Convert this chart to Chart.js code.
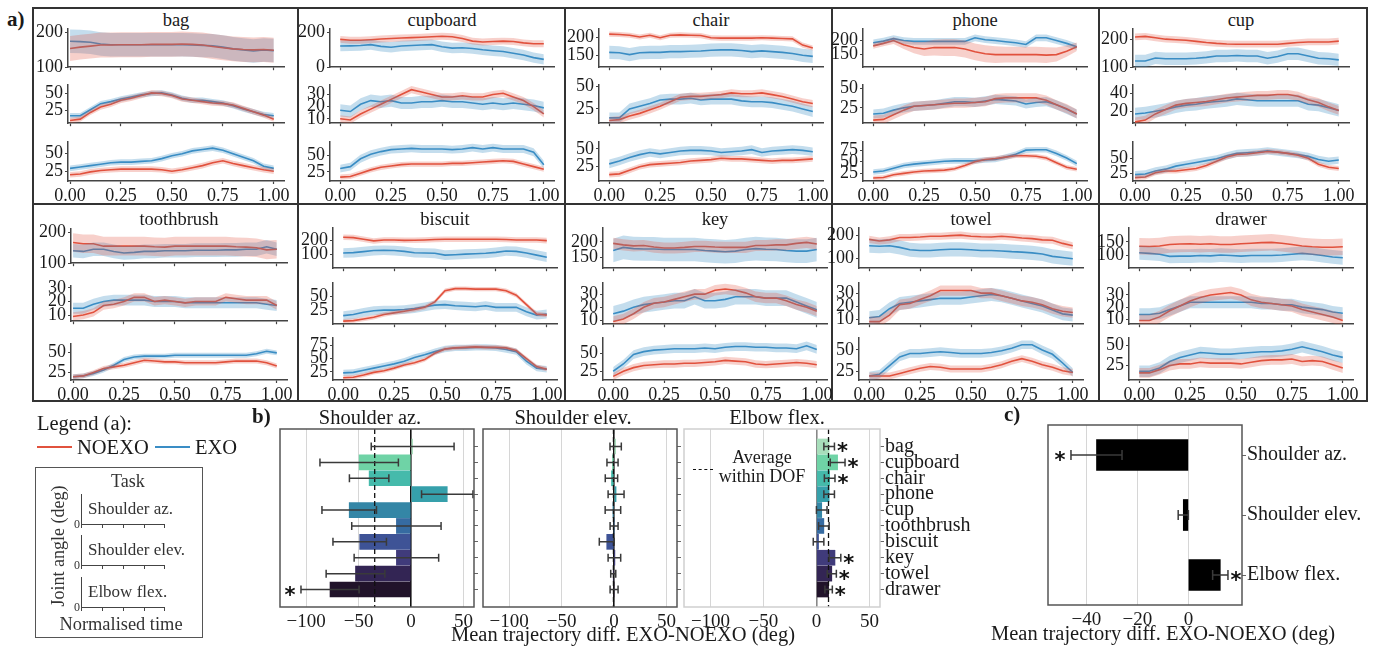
<!DOCTYPE html>
<html>
<head>
<meta charset="utf-8">
<title>Joint angle trajectories EXO vs NOEXO</title>
<script src="https://cdn.jsdelivr.net/npm/chart.js@4.4.1/dist/chart.umd.min.js"></script>
<style>
  html, body { margin: 0; padding: 0; background: #fff; }
  body { position: relative; width: 1378px; height: 647px; overflow: hidden;
         font-family: 'Liberation Serif', 'Times New Roman', serif; color: #1a1a1a; }
  canvas { position: absolute; }
  .txt { position: absolute; white-space: nowrap; line-height: 1; }
  .ln { position: absolute; box-sizing: border-box; }
</style>
</head>
<body>
<script>
// ---- a) mean joint angle (deg) over normalised time, rows = az., elev., flex. ----
const time = [0, 0.05, 0.1, 0.15, 0.2, 0.25, 0.3, 0.35, 0.4, 0.45, 0.5, 0.55, 0.6, 0.65, 0.7, 0.75, 0.8, 0.85, 0.9, 0.95, 1];
const timeTicks = [0, 0.25, 0.5, 0.75, 1];
const tasks = ['bag', 'cupboard', 'chair', 'phone', 'cup', 'toothbrush', 'biscuit', 'key', 'towel', 'drawer'];
const dofs = ['Shoulder az.', 'Shoulder elev.', 'Elbow flex.'];

const bagNoexo = [
  [154, 158, 161, 164, 164, 165, 165, 165, 166, 166, 166, 167, 166, 164, 160, 156, 153, 151, 150, 151, 149],
  [10, 12, 22, 30, 34, 40, 43, 47, 51, 50, 47, 42, 40, 38, 36, 35, 33, 28, 23, 18, 12],
  [20, 21, 24, 26, 27, 28, 28, 28, 28, 27, 25, 27, 30, 33, 37, 40, 36, 33, 30, 27, 25]
];
const bagExo = [
  [175, 174, 172, 167, 165, 165, 165, 165, 165, 165, 165, 165, 164, 163, 162, 158, 153, 150, 147, 150, 148],
  [17, 17, 26, 35, 38, 42, 45, 48, 50, 51, 48, 43, 40, 40, 38, 36, 32, 27, 23, 19, 17],
  [29, 31, 33, 35, 37, 38, 38, 39, 40, 43, 47, 50, 54, 56, 58, 55, 50, 45, 40, 32, 29]
];
const cupboardNoexo = [
  [160, 155, 155, 158, 162, 165, 168, 170, 172, 175, 178, 175, 165, 150, 145, 148, 150, 148, 140, 135, 135],
  [10, 9, 14, 18, 22, 26, 30, 34, 32, 30, 28, 28, 29, 28, 28, 30, 31, 28, 25, 20, 14],
  [17, 18, 23, 28, 32, 34, 36, 37, 37, 37, 37, 38, 38, 39, 40, 41, 42, 41, 37, 33, 29]
];
const cupboardExo = [
  [122, 123, 125, 130, 120, 115, 122, 125, 128, 130, 118, 110, 112, 108, 100, 95, 90, 80, 70, 55, 45],
  [17, 16, 22, 25, 24, 25, 23, 23, 24, 24, 25, 24, 24, 23, 22, 23, 22, 23, 22, 21, 19],
  [30, 33, 45, 52, 56, 59, 60, 61, 60, 60, 60, 59, 60, 62, 60, 62, 60, 60, 60, 55, 36]
];
const chairNoexo = [
  [208, 207, 205, 200, 205, 198, 205, 206, 205, 204, 198, 197, 197, 197, 197, 198, 197, 196, 195, 178, 170],
  [12, 13, 17, 20, 24, 28, 33, 38, 39, 39, 40, 41, 43, 42, 42, 43, 41, 39, 36, 33, 31],
  [14, 15, 20, 25, 28, 29, 30, 31, 33, 34, 35, 37, 36, 36, 35, 34, 33, 34, 34, 35, 36]
];
const chairExo = [
  [158, 157, 152, 157, 158, 158, 160, 160, 161, 162, 164, 165, 165, 163, 160, 162, 160, 158, 155, 150, 147],
  [15, 15, 25, 28, 31, 35, 36, 36, 37, 35, 36, 36, 36, 34, 33, 33, 32, 30, 28, 25, 22],
  [29, 33, 38, 42, 45, 43, 45, 47, 48, 48, 47, 45, 46, 47, 49, 45, 47, 48, 49, 48, 46]
];
const phoneNoexo = [
  [181, 190, 200, 185, 175, 170, 175, 175, 175, 170, 160, 153, 150, 150, 150, 150, 150, 148, 150, 162, 178],
  [9, 10, 16, 22, 27, 28, 29, 30, 31, 31, 32, 33, 37, 38, 38, 38, 38, 35, 29, 24, 17],
  [15, 16, 22, 25, 28, 30, 31, 32, 35, 42, 50, 55, 57, 60, 63, 63, 62, 58, 48, 38, 34]
];
const phoneExo = [
  [192, 198, 207, 200, 197, 197, 197, 197, 197, 197, 210, 203, 200, 196, 192, 186, 210, 210, 200, 190, 178],
  [17, 18, 22, 25, 27, 28, 29, 31, 33, 33, 32, 34, 36, 35, 34, 30, 32, 33, 29, 23, 17],
  [28, 30, 36, 42, 45, 47, 49, 51, 52, 52, 52, 54, 55, 60, 66, 75, 76, 76, 68, 58, 46]
];
const cupNoexo = [
  [208, 210, 205, 200, 198, 196, 192, 188, 185, 183, 182, 182, 182, 182, 182, 185, 188, 190, 190, 190, 193],
  [8, 10, 17, 22, 27, 29, 30, 31, 33, 35, 36, 37, 38, 38, 39, 39, 37, 33, 30, 25, 21],
  [18, 19, 26, 29, 29, 31, 33, 38, 45, 52, 56, 57, 59, 61, 60, 58, 55, 50, 40, 35, 33]
];
const cupExo = [
  [122, 122, 133, 130, 130, 130, 132, 135, 140, 140, 142, 140, 140, 132, 138, 148, 148, 140, 132, 130, 126],
  [17, 18, 20, 22, 25, 27, 28, 30, 31, 32, 34, 33, 32, 32, 32, 32, 32, 28, 27, 24, 21],
  [23, 24, 29, 32, 37, 40, 43, 46, 49, 54, 58, 59, 60, 62, 60, 58, 56, 53, 48, 45, 47]
];
const toothbrushNoexo = [
  [167, 163, 163, 155, 155, 155, 155, 155, 153, 152, 155, 155, 155, 155, 155, 155, 153, 152, 150, 143, 145],
  [9, 10, 12, 17, 18, 20, 23, 23, 20, 21, 20, 19, 20, 20, 20, 23, 22, 21, 21, 21, 17],
  [20, 21, 25, 30, 32, 34, 37, 40, 39, 38, 38, 37, 37, 37, 37, 38, 39, 39, 39, 37, 33]
];
const toothbrushExo = [
  [140, 138, 145, 145, 138, 133, 135, 138, 138, 140, 140, 140, 142, 142, 142, 143, 143, 145, 145, 153, 145],
  [15, 15, 18, 20, 21, 21, 21, 21, 20, 20, 20, 19, 19, 19, 19, 19, 19, 19, 19, 18, 17],
  [20, 21, 24, 28, 34, 41, 44, 45, 45, 45, 46, 46, 46, 46, 46, 46, 46, 46, 48, 51, 49]
];
const biscuitNoexo = [
  [224, 222, 210, 198, 205, 205, 202, 203, 205, 208, 210, 210, 210, 210, 210, 210, 208, 205, 205, 205, 200],
  [5, 6, 9, 12, 17, 20, 23, 26, 30, 40, 60, 64, 64, 63, 63, 63, 60, 52, 35, 18, 16],
  [14, 15, 19, 24, 27, 32, 38, 42, 48, 60, 68, 70, 71, 72, 71, 71, 70, 65, 50, 35, 30]
];
const biscuitExo = [
  [110, 113, 120, 128, 130, 128, 122, 112, 110, 108, 95, 98, 102, 105, 108, 115, 125, 122, 110, 95, 80],
  [15, 17, 21, 24, 25, 25, 26, 28, 31, 34, 35, 33, 32, 31, 33, 30, 30, 30, 22, 16, 18],
  [23, 24, 28, 32, 36, 40, 45, 52, 57, 63, 68, 70, 70, 71, 71, 70, 67, 63, 45, 32, 30]
];
const keyNoexo = [
  [195, 190, 187, 188, 183, 180, 180, 182, 185, 185, 183, 182, 182, 182, 188, 188, 190, 190, 195, 198, 193],
  [9, 11, 15, 20, 23, 24, 26, 28, 30, 30, 33, 34, 33, 31, 28, 27, 27, 25, 22, 20, 17],
  [18, 25, 30, 33, 34, 35, 35, 36, 36, 37, 38, 40, 39, 38, 35, 34, 35, 36, 37, 36, 34]
];
const keyExo = [
  [172, 182, 178, 177, 177, 175, 175, 175, 175, 172, 170, 168, 170, 175, 178, 176, 175, 172, 170, 170, 175],
  [15, 17, 20, 22, 23, 24, 25, 25, 28, 25, 25, 26, 28, 28, 28, 27, 27, 27, 24, 21, 18],
  [25, 35, 48, 52, 54, 55, 56, 56, 56, 57, 56, 58, 59, 59, 58, 58, 57, 57, 56, 60, 55]
];
const towelNoexo = [
  [182, 175, 180, 190, 190, 192, 195, 195, 198, 200, 195, 193, 192, 195, 192, 188, 185, 180, 178, 165, 155],
  [8, 8, 13, 21, 22, 25, 28, 32, 32, 32, 32, 30, 30, 28, 26, 24, 23, 21, 18, 16, 15],
  [20, 20, 20, 23, 26, 29, 31, 30, 28, 28, 28, 28, 30, 33, 37, 40, 37, 33, 30, 26, 24]
];
const towelExo = [
  [155, 153, 155, 148, 138, 135, 135, 138, 140, 140, 138, 135, 135, 133, 130, 128, 125, 120, 110, 105, 100],
  [11, 12, 18, 22, 23, 24, 25, 26, 26, 26, 27, 28, 29, 28, 26, 24, 22, 20, 17, 14, 13],
  [20, 22, 32, 42, 46, 46, 47, 48, 47, 46, 46, 46, 47, 49, 52, 56, 56, 50, 45, 35, 24]
];
const drawerNoexo = [
  [134, 133, 135, 140, 142, 143, 141, 143, 140, 140, 143, 145, 147, 148, 145, 140, 135, 132, 130, 130, 132],
  [9, 9, 12, 17, 21, 25, 28, 30, 31, 32, 30, 26, 24, 23, 22, 21, 18, 16, 14, 12, 9],
  [16, 16, 20, 25, 27, 27, 29, 28, 28, 28, 27, 29, 31, 32, 32, 33, 30, 31, 30, 26, 22]
];
const drawerExo = [
  [110, 108, 105, 97, 98, 98, 100, 99, 102, 100, 98, 100, 100, 100, 102, 105, 108, 105, 100, 95, 92],
  [14, 14, 15, 18, 21, 24, 24, 24, 24, 24, 24, 24, 23, 23, 22, 22, 20, 19, 18, 16, 15],
  [18, 18, 22, 30, 35, 38, 41, 40, 39, 39, 40, 41, 42, 42, 43, 45, 48, 45, 42, 38, 35]
];

// spread (deg) of the shaded bands, [NOEXO, EXO] per DOF
const phoneAzNoexoSpread = [10, 10, 12, 15, 20, 25, 28, 30, 30, 30, 30, 30, 30, 28, 28, 28, 28, 28, 25, 20, 15];
const bagSd = [[36, 34], [4, 4], [4, 4]];
const cupboardSd = [[20, 30], [3, 5], [4, 6]];
const chairSd = [[7, 18], [4, 6], [4, 6]];
const phoneSd = [[phoneAzNoexoSpread, 12], [6, 6], [5, 6]];
const cupSd = [[12, 22], [5, 7], [4, 6]];
const toothbrushSd = [[30, 22], [3, 4], [3, 3]];
const biscuitSd = [[20, 35], [4, 8], [4, 6]];
const keySd = [[18, 38], [4, 6], [5, 6]];
const towelSd = [[15, 30], [4, 5], [4, 5]];
const drawerSd = [[30, 25], [5, 5], [6, 7]];

// y limits and ticks for each task, per DOF
const bagY = [[100, 211], [6, 63], [11, 67]];
const cupboardY = [[0, 221], [6.4, 38], [11, 71]];
const chairY = [[117.5, 222.5], [9, 52], [5, 60]];
const phoneY = [[105, 242], [5, 55], [8.6, 93]];
const cupY = [[100, 237], [6.5, 50], [12.5, 77]];
const toothbrushY = [[100, 211], [5.5, 31.5], [16, 60]];
const biscuitY = [[0, 293], [-0.5, 74.5], [9.7, 89]];
const keyY = [[115, 245], [7, 38.7], [13, 71]];
const towelY = [[60, 231], [6, 38], [15.4, 64]];
const drawerY = [[54, 201], [6, 40], [7.3, 59]];

const bagTicks = [[100, 200], [25, 50], [25, 50]];
const cupboardTicks = [[0, 200], [10, 20, 30], [25, 50]];
const chairTicks = [[150, 200], [25, 50], [25, 50]];
const phoneTicks = [[150, 200], [25, 50], [25, 50, 75]];
const cupTicks = [[100, 200], [20, 40], [25, 50]];
const toothbrushTicks = [[100, 200], [10, 20, 30], [25, 50]];
const biscuitTicks = [[100, 200], [25, 50], [25, 50, 75]];
const keyTicks = [[150, 200], [10, 20, 30], [25, 50]];
const towelTicks = [[100, 200], [10, 20, 30], [25, 50]];
const drawerTicks = [[100, 150], [10, 20, 30], [25, 50]];

// ---- b) mean trajectory difference EXO-NOEXO per task (deg) ----
const azMean = [1.5, -49.5, -40, 34.5, -59, -14, -49, -14, -53, -77.3];
const azErr = [39.5, 37.4, 18.8, 24.5, 26, 42.6, 25.5, 40.3, 28, 27.7];
const azSig = [0, 0, 0, 0, 0, 0, 0, 0, 0, 1];
const elevMean = [1.5, -1.5, -2.5, 1.9, -1.1, 0, -7, 0.3, -0.8, 0];
const elevErr = [5.4, 5.3, 5.9, 7.6, 7.4, 3.8, 7.1, 6, 2.4, 3.8];
const elevSig = [0, 0, 0, 0, 0, 0, 0, 0, 0, 0];
const flexMean = [12, 20, 12.5, 12, 5, 7, 2, 17.5, 14.5, 11.5];
const flexErr = [5, 7, 5, 5, 5, 5, 5, 5.5, 4.3, 3.5];
const flexSig = [1, 1, 1, 0, 0, 0, 0, 1, 1, 1];
const dofAverage = [-34.7, -0.6, 11.4];
const diffTicks = [-100, -50, 0, 50];

// ---- c) mean difference per DOF (deg) ----
const dofMean = [-36, -2, 12.5];
const dofErr = [10, 2, 3];
const dofSig = [1, 0, 1];
const dofTicks = [-40, -20, 0];

// ---- styling ----
const RED = '#E1523D', BLUE = '#3A8DC5';
const RED_BAND = 'rgba(225,82,61,0.27)', BLUE_BAND = 'rgba(58,141,197,0.3)';
const taskColors = ['#A8DEBB', '#6FD3A6', '#45BAAB', '#36A0AB', '#3486A6', '#366BA1', '#3E5396', '#403B7B', '#332554', '#21132A'];
Chart.defaults.font.family = "'Liberation Serif', 'Times New Roman', serif";
Chart.defaults.color = '#1a1a1a';

const noexoData = [bagNoexo, cupboardNoexo, chairNoexo, phoneNoexo, cupNoexo, toothbrushNoexo, biscuitNoexo, keyNoexo, towelNoexo, drawerNoexo];
const exoData = [bagExo, cupboardExo, chairExo, phoneExo, cupExo, toothbrushExo, biscuitExo, keyExo, towelExo, drawerExo];
const sdData = [bagSd, cupboardSd, chairSd, phoneSd, cupSd, toothbrushSd, biscuitSd, keySd, towelSd, drawerSd];
const yData = [bagY, cupboardY, chairY, phoneY, cupY, toothbrushY, biscuitY, keyY, towelY, drawerY];
const tickData = [bagTicks, cupboardTicks, chairTicks, phoneTicks, cupTicks, toothbrushTicks, biscuitTicks, keyTicks, towelTicks, drawerTicks];

// page layout of the a) grid
const PX = 204;
const cellX0 = [70, 340, 609, 873, 1135, 73, 343, 613, 869, 1139];
const cellXMin = [-0.01, -0.05, -0.05, -0.05, -0.01, -0.01, -0.05, -0.05, -0.05, -0.05];
const rowAreas = [
  [[26, 42], [82, 42], [139, 42]],
  [[225, 44], [280, 45], [335, 45]]
];
const toothbrushAreas = [[226, 38], [283, 39], [341, 39]];

function addCanvas(x, y, w, h) {
  const c = document.createElement('canvas');
  c.width = w; c.height = h;
  c.style.left = x + 'px'; c.style.top = y + 'px';
  c.style.width = w + 'px'; c.style.height = h + 'px';
  document.body.appendChild(c);
  return c;
}

function text(str, x, y, o = {}) {
  const d = document.createElement('div');
  d.className = 'txt';
  d.textContent = str;
  d.style.left = x + 'px';
  d.style.top = y + 'px';
  d.style.fontSize = (o.size || 20) + 'px';
  if (o.bold) d.style.fontWeight = 'bold';
  if (o.color) d.style.color = o.color;
  const ax = o.align === 'center' ? '-50%' : o.align === 'right' ? '-100%' : '0';
  d.style.transform = 'translate(' + (o.rot ? '-50%' : ax) + ', -50%)' + (o.rot ? ' rotate(' + o.rot + 'deg)' : '');
  document.body.appendChild(d);
}

function line(x, y, w, h, style) {
  const d = document.createElement('div');
  d.className = 'ln';
  d.style.left = x + 'px'; d.style.top = y + 'px';
  d.style.width = w + 'px'; d.style.height = h + 'px';
  Object.assign(d.style, style || { background: '#333' });
  document.body.appendChild(d);
}

const minusFmt = v => (v < 0 ? '\u2212' + (-v) : String(v));

function trajectoryPlot(area, noexo, exo, sd, yRange, yTicks, showTime) {
  const L = 46, T = 10, R = 22, B = showTime ? 27 : 12;
  const cv = addCanvas(area.x - L, area.y - T, area.w + L + R, area.h + T + B);
  const pts = (m, s, sign) => time.map((t, i) => ({ x: t, y: m[i] + sign * (Array.isArray(s) ? s[i] : s) }));
  const band = (m, s, col) => [
    { data: pts(m, s, 1), borderWidth: 0, backgroundColor: col, fill: '+1', pointRadius: 0 },
    { data: pts(m, s, -1), borderWidth: 0, fill: false, pointRadius: 0 }
  ];
  const mean = (m, col) => ({ data: pts(m, 0, 0), borderColor: col, borderWidth: 1.6, fill: false, pointRadius: 0 });
  const grid = { drawOnChartArea: false, tickLength: 3, tickColor: '#444', tickWidth: 1.2 };
  const border = { color: '#444', width: 1.5 };
  new Chart(cv, {
    type: 'line',
    data: { datasets: [...band(noexo, sd[0], RED_BAND), ...band(exo, sd[1], BLUE_BAND), mean(noexo, RED), mean(exo, BLUE)] },
    options: {
      responsive: false, animation: false, devicePixelRatio: 1,
      layout: { padding: { top: T, right: R, left: 0, bottom: 0 } },
      plugins: { legend: { display: false }, tooltip: { enabled: false } },
      scales: {
        x: {
          type: 'linear', min: area.xmin, max: 1.05, grid, border,
          afterBuildTicks: s => { s.ticks = timeTicks.map(v => ({ value: v })); },
          afterFit: s => { s.height = B; },
          ticks: { display: showTime, autoSkip: false, maxRotation: 0, padding: 1, font: { size: 18 }, callback: v => v.toFixed(2) }
        },
        y: {
          type: 'linear', min: yRange[0], max: yRange[1], grid, border,
          afterBuildTicks: s => { s.ticks = yTicks.map(v => ({ value: v })); },
          afterFit: s => { s.width = L; },
          ticks: { autoSkip: false, padding: 2, font: { size: 18 } }
        }
      }
    }
  });
}

// error bars, average line, asterisks and frame for the difference panels
function decor(mean, err, sig, avg, frame, cap) {
  return {
    id: 'decor',
    afterDatasetsDraw(chart) {
      const { ctx, chartArea: a } = chart;
      const xs = chart.scales.x, ys = chart.scales.y;
      ctx.save();
      ctx.beginPath(); ctx.rect(a.left, a.top, a.width, a.height); ctx.clip();
      if (avg !== null) {
        const px = xs.getPixelForValue(avg);
        ctx.setLineDash([5, 3]); ctx.strokeStyle = '#111'; ctx.lineWidth = 1.3;
        ctx.beginPath(); ctx.moveTo(px, a.top); ctx.lineTo(px, a.bottom); ctx.stroke();
        ctx.setLineDash([]);
      }
      ctx.strokeStyle = '#3a3a3a'; ctx.lineWidth = 1.5;
      mean.forEach((m, i) => {
        const py = ys.getPixelForValue(i);
        const x1 = xs.getPixelForValue(m - err[i]), x2 = xs.getPixelForValue(m + err[i]);
        ctx.beginPath();
        ctx.moveTo(x1, py); ctx.lineTo(x2, py);
        ctx.moveTo(x1, py - cap); ctx.lineTo(x1, py + cap);
        ctx.moveTo(x2, py - cap); ctx.lineTo(x2, py + cap);
        ctx.stroke();
      });
      ctx.restore();
      ctx.save();
      ctx.fillStyle = '#111';
      ctx.font = 'bold 21px "DejaVu Sans"';
      ctx.textAlign = 'center';
      mean.forEach((m, i) => {
        if (!sig[i]) return;
        const neg = m < 0;
        const px = xs.getPixelForValue(neg ? m - err[i] : m + err[i]) + (neg ? -11 : 8);
        ctx.fillText('*', px, ys.getPixelForValue(i) + 12);
      });
      ctx.strokeStyle = frame; ctx.lineWidth = 1.5;
      ctx.strokeRect(a.left, a.top, a.width, a.height);
      ctx.restore();
    }
  };
}

function diffPanel(area, mean, err, sig, avg, style) {
  const L = 2, T = 16, R = style.labels ? 110 : 8, B = 28;
  const cv = addCanvas(area.x - L, area.y - T, area.w + L + R, area.h + T + B);
  new Chart(cv, {
    type: 'bar',
    data: { datasets: [{ data: mean.map((v, i) => ({ x: v, y: i })), backgroundColor: taskColors, borderWidth: 0, barThickness: 15 }] },
    options: {
      indexAxis: 'y', responsive: false, animation: false, devicePixelRatio: 1,
      layout: { padding: { left: L, top: T, right: 0, bottom: 0 } },
      plugins: { legend: { display: false }, tooltip: { enabled: false } },
      scales: {
        x: {
          type: 'linear', min: -125, max: 60,
          afterBuildTicks: s => { s.ticks = diffTicks.map(v => ({ value: v })); },
          afterFit: s => { s.height = B; },
          grid: { drawTicks: false, color: c => (c.tick.value === 0 ? style.zero : '#d6d6d6'), lineWidth: c => (c.tick.value === 0 ? 1.6 : 1) },
          border: { display: false },
          ticks: { padding: 4, font: { size: 19 }, callback: minusFmt }
        },
        y: {
          type: 'linear', position: 'right', reverse: true, offset: false, min: -1.1, max: 10.1,
          afterBuildTicks: s => { s.ticks = tasks.map((t, i) => ({ value: i })); },
          afterFit: s => { s.width = R; },
          grid: { offset: false, drawOnChartArea: false, tickLength: 4, tickColor: '#666' },
          border: { display: false },
          ticks: { display: !!style.labels, autoSkip: false, padding: 1, font: { size: 20 }, callback: v => tasks[v] }
        }
      }
    },
    plugins: [decor(mean, err, sig, avg, style.frame, 4)]
  });
}

function dofPanel(area) {
  const L = 2, T = 16, R = 130, B = 28;
  const cv = addCanvas(area.x - L, area.y - T, area.w + L + R, area.h + T + B);
  new Chart(cv, {
    type: 'bar',
    data: { labels: dofs, datasets: [{ data: dofMean, backgroundColor: '#000', borderWidth: 0, barThickness: 31 }] },
    options: {
      indexAxis: 'y', responsive: false, animation: false, devicePixelRatio: 1,
      layout: { padding: { left: L, top: T, right: 0, bottom: 0 } },
      plugins: { legend: { display: false }, tooltip: { enabled: false } },
      scales: {
        x: {
          type: 'linear', min: -55, max: 21,
          afterBuildTicks: s => { s.ticks = dofTicks.map(v => ({ value: v })); },
          afterFit: s => { s.height = B; },
          grid: { drawTicks: false, color: '#d6d6d6' },
          border: { display: false },
          ticks: { padding: 4, font: { size: 19 }, callback: minusFmt }
        },
        y: {
          type: 'category', position: 'right', offset: true,
          afterFit: s => { s.width = R; },
          grid: { offset: false, drawOnChartArea: false, tickLength: 4, tickColor: '#666' },
          border: { display: false },
          ticks: { padding: 1, font: { size: 20 } }
        }
      }
    },
    plugins: [decor(dofMean, dofErr, dofSig, null, '#555', 5)]
  });
}

// ---- a) grid frame ----
line(32, 7, 1336, 395, { border: '2px solid #333' });
[297, 564, 831, 1098].forEach(x => line(x, 7, 2, 395));
line(32, 203, 1336, 2);
text('a)', 7, 19, { size: 21, bold: true });

tasks.forEach((name, k) => {
  const row = k < 5 ? 0 : 1;
  const areas = name === 'toothbrush' ? toothbrushAreas : rowAreas[row];
  const left = Math.round(cellX0[k] + cellXMin[k] * PX);
  const w = Math.round((1.05 - cellXMin[k]) * PX);
  text(name, left + w / 2, row ? 219 : 20, { size: 18.5, align: 'center' });
  for (let j = 0; j < 3; j++) {
    trajectoryPlot({ x: left, y: areas[j][0], w, h: areas[j][1], xmin: cellXMin[k] },
      noexoData[k][j], exoData[k][j], sdData[k][j], yData[k][j], tickData[k][j], j === 2);
  }
});

// ---- legend for a) ----
text('Legend (a):', 37, 423, { size: 20.5 });
line(37, 446, 35, 2, { background: RED });
text('NOEXO', 77, 447, { size: 20.5 });
line(155, 446, 35, 2, { background: BLUE });
text('EXO', 195, 447, { size: 20.5 });
line(35, 467, 168, 171, { border: '1.5px solid #555' });
text('Task', 111, 481, { size: 18, color: '#333' });
text('Joint angle (deg)', 58, 546, { size: 18, rot: -90, color: '#333' });
[[494, 'Shoulder az.'], [535, 'Shoulder elev.'], [577, 'Elbow flex.']].forEach(([top, lab]) => {
  line(81, top, 1.3, 31, { background: '#444' });
  line(81, top + 30, 84, 1.3, { background: '#444' });
  [81, 102, 123, 144, 164].forEach(x => line(x, top + 31, 1, 3, { background: '#444' }));
  text('0', 80, top + 30, { size: 12, align: 'right', color: '#333' });
  text(lab, 88, top + 14, { size: 17, color: '#333' });
});
text('Normalised time', 121, 624, { size: 18.4, color: '#333', align: 'center' });

// ---- b) ----
text('b)', 252, 416, { size: 21, bold: true });
text('Shoulder az.', 370, 417, { size: 20.5, align: 'center' });
text('Shoulder elev.', 573, 417, { size: 20.5, align: 'center' });
text('Elbow flex.', 777, 417, { size: 20.5, align: 'center' });
diffPanel({ x: 280, y: 429, w: 194, h: 178 }, azMean, azErr, azSig, dofAverage[0], { frame: '#555', zero: '#111' });
diffPanel({ x: 483, y: 429, w: 194, h: 178 }, elevMean, elevErr, elevSig, dofAverage[1], { frame: '#555', zero: '#111' });
diffPanel({ x: 684, y: 429, w: 196, h: 178 }, flexMean, flexErr, flexSig, dofAverage[2], { frame: '#cfcfcf', zero: '#888', labels: true });
line(693, 469, 20, 0, { borderTop: '1.5px dashed #111' });
text('Average', 762, 457, { size: 18, align: 'center' });
text('within DOF', 762, 476, { size: 18, align: 'center' });
text('Mean trajectory diff. EXO-NOEXO (deg)', 623, 634, { size: 20.5, align: 'center' });

// ---- c) ----
text('c)', 1004, 414, { size: 21, bold: true });
dofPanel({ x: 1048, y: 425, w: 194, h: 180 });
text('Mean trajectory diff. EXO-NOEXO (deg)', 1163, 633, { size: 20.5, align: 'center' });
</script>
</body>
</html>
